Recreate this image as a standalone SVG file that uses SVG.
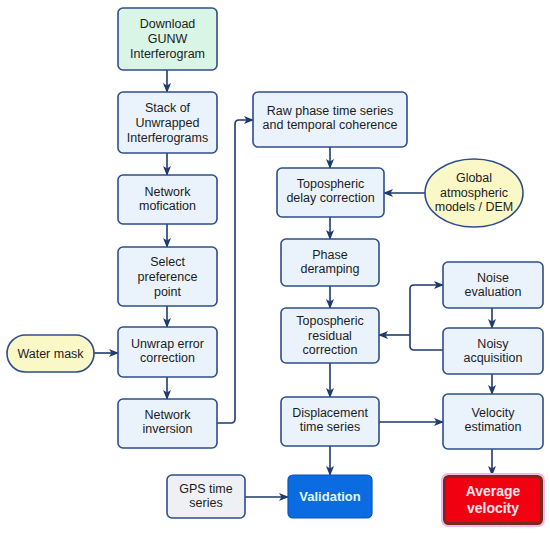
<svg xmlns="http://www.w3.org/2000/svg" width="550" height="534" viewBox="0 0 550 534">
<defs>
<marker id="ah" markerWidth="10" markerHeight="8" refX="9" refY="4" orient="auto" markerUnits="userSpaceOnUse">
<path d="M0,0 L10,4 L0,8 L2.5,4 Z" fill="#1f3a6e"/>
</marker>
</defs>
<style>
.box{fill:#eaf3fc;stroke:#2e4d8a;stroke-width:1.6}
.t{font-family:"Liberation Sans",Arial,sans-serif;font-size:12.5px;fill:#1c1c1c;text-anchor:middle}
.c{fill:none;stroke:#1f3a6e;stroke-width:1.6}
</style>
<rect width="550" height="534" fill="#ffffff"/>
<g id="connectors">
<line class="c" x1="167" y1="70" x2="167" y2="92" marker-end="url(#ah)"/>
<line class="c" x1="167" y1="153" x2="167" y2="175" marker-end="url(#ah)"/>
<line class="c" x1="167" y1="224" x2="167" y2="247" marker-end="url(#ah)"/>
<line class="c" x1="167" y1="306" x2="167" y2="327" marker-end="url(#ah)"/>
<line class="c" x1="167" y1="377" x2="167" y2="399" marker-end="url(#ah)"/>
<line class="c" x1="94" y1="353" x2="118" y2="353" marker-end="url(#ah)"/>
<path class="c" d="M217,423 L231,423 Q235,423 235,419 L235,124 Q235,120 239,120 L253,120" marker-end="url(#ah)"/>
<line class="c" x1="330" y1="147" x2="330" y2="168" marker-end="url(#ah)"/>
<line class="c" x1="425" y1="193" x2="384" y2="193" marker-end="url(#ah)"/>
<line class="c" x1="330" y1="217" x2="330" y2="239" marker-end="url(#ah)"/>
<line class="c" x1="330" y1="286" x2="330" y2="308" marker-end="url(#ah)"/>
<line class="c" x1="330" y1="363" x2="330" y2="397" marker-end="url(#ah)"/>
<line class="c" x1="330" y1="446" x2="330" y2="475" marker-end="url(#ah)"/>
<line class="c" x1="379" y1="422" x2="443" y2="422" marker-end="url(#ah)"/>
<line class="c" x1="245" y1="497" x2="288" y2="497" marker-end="url(#ah)"/>
<path class="c" d="M443,350 L414,350 Q410,350 410,346 L410,289 Q410,285 414,285 L443,285" marker-end="url(#ah)"/>
<line class="c" x1="410" y1="335" x2="379" y2="335" marker-end="url(#ah)"/>
<line class="c" x1="492" y1="308" x2="492" y2="328" marker-end="url(#ah)"/>
<line class="c" x1="492" y1="374" x2="492" y2="394" marker-end="url(#ah)"/>
<line class="c" x1="492" y1="449" x2="492" y2="475" marker-end="url(#ah)"/>
</g>
<g id="download">
<rect class="box" x="118" y="8" width="99" height="62" rx="5" style="fill:#d8f5e6"/>
<text class="t" x="167.5" y="28">Download</text>
<text class="t" x="167.5" y="43">GUNW</text>
<text class="t" x="167.5" y="58">Interferogram</text>
</g>
<g id="stack">
<rect class="box" x="118" y="92" width="99" height="61" rx="5"/>
<text class="t" x="167.5" y="112">Stack of</text>
<text class="t" x="167.5" y="127">Unwrapped</text>
<text class="t" x="167.5" y="142">Interferograms</text>
</g>
<g id="network-mod">
<rect class="box" x="118" y="175" width="99" height="49" rx="5"/>
<text class="t" x="167.5" y="196">Network</text>
<text class="t" x="167.5" y="210">mofication</text>
</g>
<g id="select-ref">
<rect class="box" x="118" y="247" width="99" height="59" rx="5"/>
<text class="t" x="167.5" y="266">Select</text>
<text class="t" x="167.5" y="281">preference</text>
<text class="t" x="167.5" y="296">point</text>
</g>
<g id="unwrap">
<rect class="box" x="118" y="327" width="99" height="50" rx="5"/>
<text class="t" x="167.5" y="348">Unwrap error</text>
<text class="t" x="167.5" y="362">correction</text>
</g>
<g id="network-inv">
<rect class="box" x="118" y="399" width="99" height="49" rx="5"/>
<text class="t" x="167.5" y="419">Network</text>
<text class="t" x="167.5" y="433">inversion</text>
</g>
<g id="water-mask">
<rect x="7" y="335" width="87" height="37" rx="18.5" fill="#fbf8c8" stroke="#2e4d8a" stroke-width="1.6"/>
<text class="t" x="50.5" y="358">Water mask</text>
</g>
<g id="gps">
<rect class="box" x="167" y="475" width="78" height="43" rx="5" style="fill:#eef0f3"/>
<text class="t" x="206" y="493">GPS time</text>
<text class="t" x="206" y="507">series</text>
</g>
<g id="raw-phase">
<rect class="box" x="253" y="92" width="154" height="55" rx="5"/>
<text class="t" x="330" y="115">Raw phase time series</text>
<text class="t" x="330" y="129">and temporal coherence</text>
</g>
<g id="tropo-delay">
<rect class="box" x="277" y="168" width="107" height="49" rx="5"/>
<text class="t" x="330.5" y="188">Topospheric</text>
<text class="t" x="330.5" y="202">delay correction</text>
</g>
<g id="global-atm">
<ellipse cx="474" cy="193" rx="49" ry="34" fill="#fbf8c8" stroke="#2e4d8a" stroke-width="1.6"/>
<text class="t" x="474" y="182">Global</text>
<text class="t" x="474" y="197">atmospheric</text>
<text class="t" x="474" y="211">models / DEM</text>
</g>
<g id="deramp">
<rect class="box" x="281" y="239" width="98" height="47" rx="5"/>
<text class="t" x="330" y="259">Phase</text>
<text class="t" x="330" y="273">deramping</text>
</g>
<g id="tropo-residual">
<rect class="box" x="281" y="308" width="98" height="55" rx="5"/>
<text class="t" x="330" y="325">Topospheric</text>
<text class="t" x="330" y="340">residual</text>
<text class="t" x="330" y="354">correction</text>
</g>
<g id="noise-eval">
<rect class="box" x="443" y="262" width="100" height="46" rx="5"/>
<text class="t" x="493" y="282">Noise</text>
<text class="t" x="493" y="296">evaluation</text>
</g>
<g id="noisy-acq">
<rect class="box" x="443" y="328" width="100" height="46" rx="5"/>
<text class="t" x="493" y="348">Noisy</text>
<text class="t" x="493" y="362">acquisition</text>
</g>
<g id="displacement">
<rect class="box" x="281" y="397" width="98" height="49" rx="5"/>
<text class="t" x="330" y="417">Displacement</text>
<text class="t" x="330" y="431">time series</text>
</g>
<g id="velocity-est">
<rect class="box" x="443" y="394" width="100" height="55" rx="5"/>
<text class="t" x="493" y="417">Velocity</text>
<text class="t" x="493" y="431">estimation</text>
</g>
<g id="validation">
<rect x="288" y="475" width="84" height="43" rx="5" fill="#0b6be0" stroke="#0a55b8" stroke-width="1.2"/>
<text class="t" x="330" y="501" style="fill:#e4f6ff;font-weight:bold;font-size:13px">Validation</text>
</g>
<g id="avg-velocity">
<rect x="442" y="474" width="102" height="52" rx="6" fill="none" stroke="#f0b8e8" stroke-width="2"/>
<rect x="444.5" y="476.5" width="97" height="47" rx="4" fill="#f00010" stroke="#7a2a1c" stroke-width="3"/>
<text class="t" x="493" y="496" style="fill:#ffe4ea;font-weight:bold;font-size:14px">Average</text>
<text class="t" x="493" y="513" style="fill:#ffe4ea;font-weight:bold;font-size:14px">velocity</text>
</g>
</svg>
